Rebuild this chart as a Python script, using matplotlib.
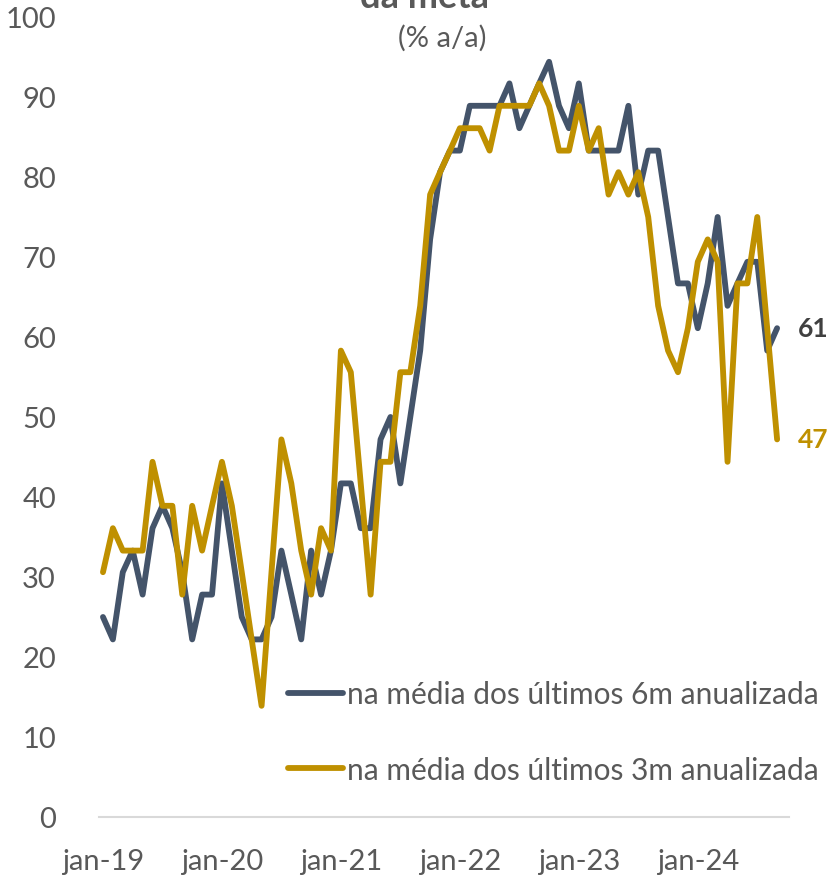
import matplotlib
matplotlib.use('Agg')
import matplotlib.pyplot as plt
import numpy as np

plt.rcParams['font.family'] = ['Lato', 'DejaVu Sans']

# monthly, jan-19 .. sep-24
months = np.arange(69)
tick_pos = [0, 12, 24, 36, 48, 60]
tick_labels = ['jan-19', 'jan-20', 'jan-21', 'jan-22', 'jan-23', 'jan-24']

media_6m = [25.0, 22.2, 30.6, 33.3, 27.8, 36.1, 38.9, 36.1, 30.6, 22.2, 27.8, 27.8,
            41.7, 33.3, 25.0, 22.2, 22.2, 25.0, 33.3, 27.8, 22.2, 33.3, 27.8, 33.3,
            41.7, 41.7, 36.1, 36.1, 47.2, 50.0, 41.7, 50.0, 58.3, 72.2, 80.6, 83.3,
            83.3, 88.9, 88.9, 88.9, 88.9, 91.7, 86.1, 88.9, 91.7, 94.4, 88.9, 86.1,
            91.7, 83.3, 83.3, 83.3, 83.3, 88.9, 77.8, 83.3, 83.3, 75.0, 66.7, 66.7,
            61.1, 66.7, 75.0, 63.9, 66.7, 69.4, 69.4, 58.3, 61.1]

media_3m = [30.6, 36.1, 33.3, 33.3, 33.3, 44.4, 38.9, 38.9, 27.8, 38.9, 33.3, 38.9,
            44.4, 38.9, 30.6, 22.2, 13.9, 30.6, 47.2, 41.7, 33.3, 27.8, 36.1, 33.3,
            58.3, 55.6, 41.7, 27.8, 44.4, 44.4, 55.6, 55.6, 63.9, 77.8, 80.6, 83.3,
            86.1, 86.1, 86.1, 83.3, 88.9, 88.9, 88.9, 88.9, 91.7, 88.9, 83.3, 83.3,
            88.9, 83.3, 86.1, 77.8, 80.6, 77.8, 80.6, 75.0, 63.9, 58.3, 55.6, 61.1,
            69.4, 72.2, 69.4, 44.4, 66.7, 66.7, 75.0, 61.1, 47.2]

navy = '#44546A'
gold = '#BF9000'
grey = '#595959'

fig = plt.figure(figsize=(8.28, 8.78), dpi=100)
ax = fig.add_axes([99/828, 60/878, 690/828, 800/878])

ax.plot(months, media_6m, color=navy, lw=4.2, solid_joinstyle='round',
        solid_capstyle='round', label='na média dos últimos 6m anualizada')
ax.plot(months, media_3m, color=gold, lw=4.2, solid_joinstyle='round',
        solid_capstyle='round', label='na média dos últimos 3m anualizada')

ax.set_xlim(-0.4, 69.2)
ax.set_ylim(0, 100)
ax.set_yticks(range(0, 101, 10))
ax.set_xticks(tick_pos)
ax.set_xticklabels(tick_labels)
ax.tick_params(length=0, labelsize=21, labelcolor=grey)
ax.tick_params(axis='y', pad=31)
ax.tick_params(axis='x', pad=22)
for s in ['top', 'right', 'left']:
    ax.spines[s].set_visible(False)
ax.spines['bottom'].set_color('#D9D9D9')
ax.spines['bottom'].set_linewidth(1.5)

# end labels
ax.annotate('%d' % round(media_6m[-1]), xy=(months[-1], media_6m[-1]),
            xytext=(21, 0), textcoords='offset pixels', va='center', ha='left',
            fontsize=19, fontweight='bold', color='#404040', annotation_clip=False)
ax.annotate('%d' % round(media_3m[-1]), xy=(months[-1], media_3m[-1]),
            xytext=(21, 0), textcoords='offset pixels', va='center', ha='left',
            fontsize=19, fontweight='bold', color=gold, annotation_clip=False)

leg = ax.legend(loc='upper left', bbox_to_anchor=(288/828, 1 - 681/878),
                bbox_transform=fig.transFigure, frameon=False, fontsize=21.5,
                handlelength=1.85, handletextpad=0.12, labelspacing=1.6,
                borderpad=0, borderaxespad=0)
for t in leg.get_texts():
    t.set_color(grey)

fig.text(425/828, 1 - 8/878, 'da meta', ha='center', va='baseline',
         fontsize=26, fontweight='bold', color=grey)
fig.text(442/828, 1 - 38/878, '(% a/a)', ha='center', va='center',
         fontsize=21, color=grey)

fig.savefig('out.png', dpi=100)
